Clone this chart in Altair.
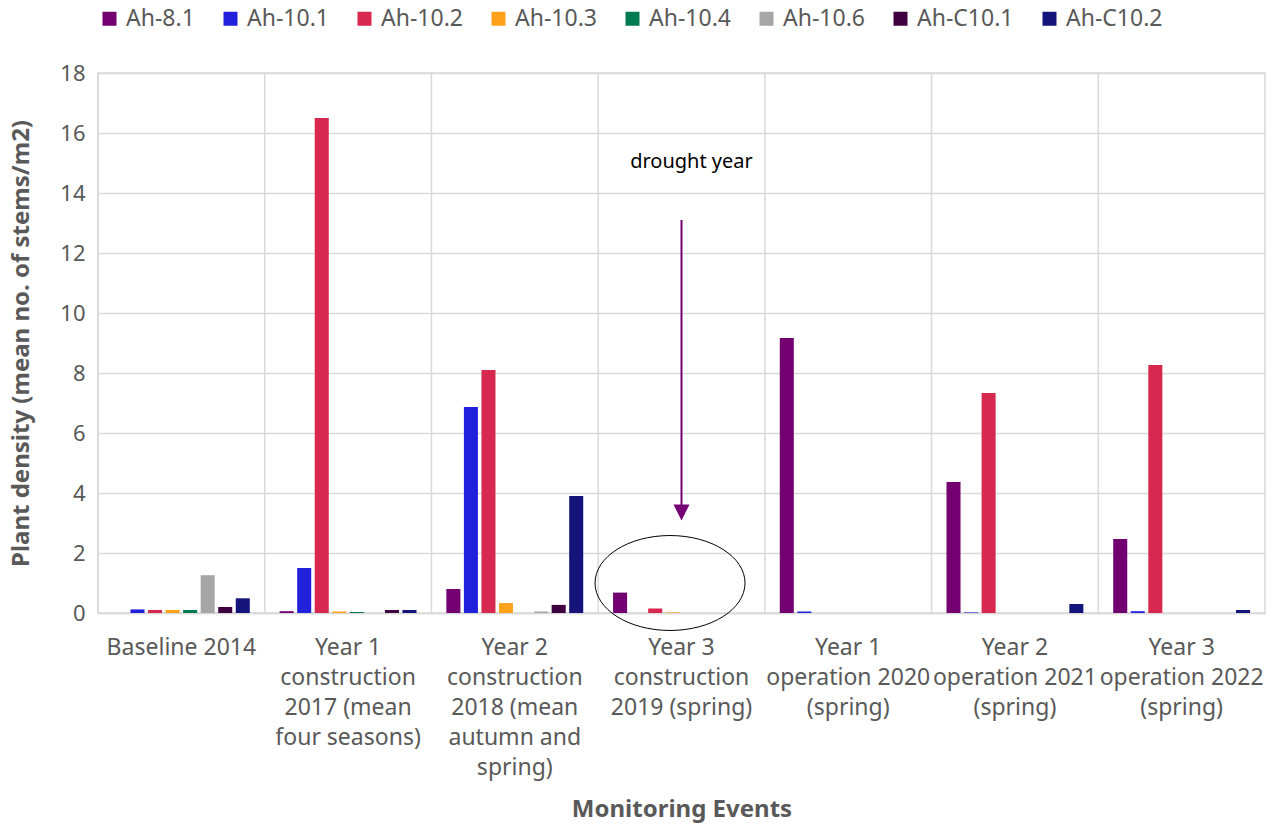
import altair as alt
import pandas as pd

# Monitoring events (label lines separated by "|")
events = [
    "Baseline 2014",
    "Year 1|construction|2017 (mean|four seasons)",
    "Year 2|construction|2018 (mean|autumn and|spring)",
    "Year 3|construction|2019 (spring)",
    "Year 1|operation 2020|(spring)",
    "Year 2|operation 2021|(spring)",
    "Year 3|operation 2022|(spring)",
]

series = ["Ah-8.1", "Ah-10.1", "Ah-10.2", "Ah-10.3", "Ah-10.4", "Ah-10.6", "Ah-C10.1", "Ah-C10.2"]
colors = ["#730070", "#2121dc", "#d7284f", "#ffa21a", "#007a52", "#a6a6a6", "#3f003f", "#14147a"]

# Mean number of stems per m2, one value per monitoring event
ah_8_1 = [0.0, 0.06, 0.80, 0.68, 9.17, 4.37, 2.47]
ah_10_1 = [0.12, 1.50, 6.87, 0.0, 0.05, 0.02, 0.06]
ah_10_2 = [0.10, 16.50, 8.10, 0.15, 0.0, 7.33, 8.27]
ah_10_3 = [0.10, 0.05, 0.33, 0.02, 0.0, 0.0, 0.0]
ah_10_4 = [0.10, 0.03, 0.0, 0.0, 0.0, 0.0, 0.0]
ah_10_6 = [1.26, 0.0, 0.05, 0.0, 0.0, 0.0, 0.0]
ah_c10_1 = [0.20, 0.10, 0.27, 0.0, 0.0, 0.0, 0.0]
ah_c10_2 = [0.49, 0.10, 3.90, 0.0, 0.0, 0.30, 0.10]

values = [ah_8_1, ah_10_1, ah_10_2, ah_10_3, ah_10_4, ah_10_6, ah_c10_1, ah_c10_2]

# "drought year" annotation: note text, arrow shaft, arrow head, ring around the 2019 bars
note_event = events[3]
note_text_y = 15.05
arrow_top_y = 13.1
arrow_end_y = 3.6
arrow_head_y = 3.35
ring_y = 1.0

rows = []
for name, vals in zip(series, values):
    for ev, v in zip(events, vals):
        rows.append({"event": ev, "series": name, "density": v})
df = pd.DataFrame(rows)

TEXT = "#595959"
GRID = "#d9d9d9"
FONT = "Noto Sans"

x_scale = alt.Scale(domain=events, paddingInner=0, paddingOuter=0)
y_scale = alt.Scale(domain=[0, 18], nice=False)

bars = alt.Chart(df).mark_bar().encode(
    x=alt.X(
        "event:N",
        scale=x_scale,
        sort=events,
        title="Monitoring Events",
        axis=alt.Axis(
            labelExpr="split(datum.label, '|')",
            labelAngle=0,
            labelAlign="center",
            labelBaseline="top",
            labelLineHeight=30,
            labelPadding=23,
            labelLimit=400,
            labelOverlap=False,
            labelFontSize=23,
            labelColor=TEXT,
            ticks=False,
            grid=False,
            domainColor=GRID,
            domainWidth=1.5,
            titleFontSize=24,
            titleFontWeight="bold",
            titleColor=TEXT,
            titlePadding=18,
        ),
    ),
    xOffset=alt.XOffset(
        "series:N",
        sort=series,
        scale=alt.Scale(domain=series, paddingInner=0.2, paddingOuter=0.85),
    ),
    y=alt.Y(
        "density:Q",
        scale=y_scale,
        title="Plant density (mean no. of stems/m2)",
        axis=alt.Axis(
            values=list(range(0, 19, 2)),
            grid=True,
            gridColor=GRID,
            gridWidth=1.5,
            domain=False,
            ticks=False,
            labelFontSize=22,
            labelColor=TEXT,
            labelPadding=13,
            titleFontSize=24,
            titleFontWeight="bold",
            titleColor=TEXT,
            titlePadding=26,
        ),
    ),
    color=alt.Color(
        "series:N",
        sort=series,
        scale=alt.Scale(domain=series, range=colors),
        legend=alt.Legend(
            orient="none",
            legendX=0,
            legendY=-66,
            direction="horizontal",
            columns=8,
            title=None,
            symbolType="square",
            symbolSize=196,
            symbolStrokeWidth=0,
            labelFontSize=23,
            labelColor=TEXT,
            labelOffset=5,
            columnPadding=24,
            padding=0,
        ),
    ),
)

# vertical separators at the left edge of every event band
ev_df = pd.DataFrame({"event": events})
separators = alt.Chart(ev_df).mark_rule(color=GRID, strokeWidth=1.5).encode(
    x=alt.X("event:N", scale=x_scale, sort=events, bandPosition=0)
)

note_df = pd.DataFrame({
    "event": [note_event],
    "text_y": [note_text_y],
    "top": [arrow_top_y],
    "end": [arrow_end_y],
    "head": [arrow_head_y],
    "ring": [ring_y],
    "label": ["drought year"],
})
base_note = alt.Chart(note_df)

note_text = base_note.mark_text(fontSize=20, color="black", dx=10, font=FONT).encode(
    x=alt.X("event:N", scale=x_scale, sort=events),
    y=alt.Y("text_y:Q", scale=y_scale),
    text="label:N",
)
arrow_shaft = base_note.mark_rule(color="#750075", strokeWidth=2).encode(
    x=alt.X("event:N", scale=x_scale, sort=events),
    y=alt.Y("top:Q", scale=y_scale),
    y2="end:Q",
)
arrow_head = base_note.mark_point(
    shape="M -1 -1 L 1 -1 L 0 1 Z", size=256, filled=True, color="#750075", opacity=1
).encode(
    x=alt.X("event:N", scale=x_scale, sort=events),
    y=alt.Y("head:Q", scale=y_scale),
)
ring = base_note.mark_point(
    shape="M -1.153 0 A 1 0.633 0 1 0 0.847 0 A 1 0.633 0 1 0 -1.153 0 Z",
    size=22500,
    filled=False,
    stroke="black",
    strokeWidth=1,
    opacity=1,
).encode(
    x=alt.X("event:N", scale=x_scale, sort=events),
    y=alt.Y("ring:Q", scale=y_scale),
)

chart = (
    alt.layer(separators, bars, note_text, arrow_shaft, arrow_head, ring)
    .properties(
        width=1167,
        height=540,
        autosize=alt.AutoSizeParams(type="none"),
        padding={"left": 98, "top": 73, "right": 11, "bottom": 212},
    )
    .configure(font=FONT)
    .configure_view(stroke=GRID, strokeWidth=1.5)
)

chart.save("out.html", embed_options={"renderer": "svg", "actions": False})
